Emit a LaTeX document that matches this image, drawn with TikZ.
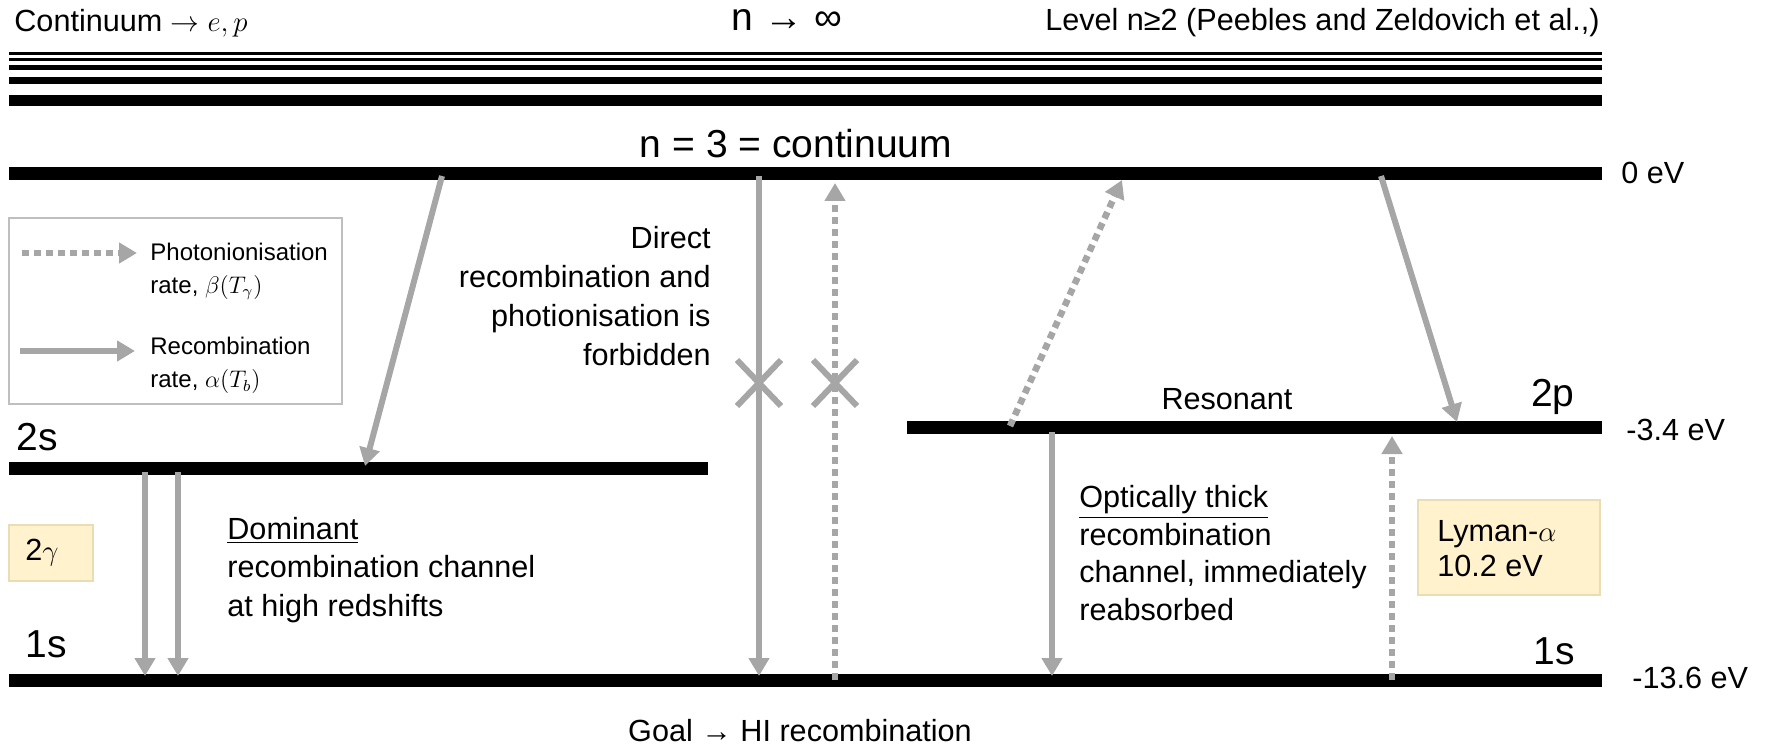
\documentclass[tikz,border=0pt]{standalone}
\usepackage{fontspec}
\setmainfont{Liberation Sans}
\usetikzlibrary{arrows.meta}
\definecolor{arrgrey}{HTML}{A6A6A6}
\definecolor{boxfill}{HTML}{FFF2CC}
\definecolor{boxline}{HTML}{E9DDB5}
\definecolor{legline}{HTML}{BFBFBF}
\begin{document}
\begin{tikzpicture}[x=0.5pt,y=-0.5pt,
  lvl/.style={line width=6.5pt},
  rec/.style={draw=arrgrey,line width=3pt,-{Triangle[length=9pt,width=10pt]}},
  pho/.style={draw=arrgrey,line width=3.3pt,dash pattern=on 3.5pt off 2.5pt,-{Triangle[length=9pt,width=10pt]}},
  crossmark/.style={draw=arrgrey,line width=3pt},
  body/.style={font=\fontsize{15.3}{18.7}\selectfont,inner sep=0pt},
  big/.style={font=\fontsize{19.5}{22}\selectfont,inner sep=0pt},
  legt/.style={font=\fontsize{12}{16.5}\selectfont,inner sep=0pt,align=left,anchor=west},
  ybox/.style={fill=boxfill,draw=boxline,line width=0.8pt},
]
\useasboundingbox (0,0) rectangle (1777,748);

% continuum lines
\draw[line width=1.5pt] (9,54) -- (1602,54);
\draw[line width=1.5pt] (9,60) -- (1602,60);
\draw[line width=2.5pt] (9,67.5) -- (1602,67.5);
\draw[line width=3.5pt] (9,80.5) -- (1602,80.5);
\draw[line width=5.5pt] (9,101) -- (1602,101);

% levels
\draw[lvl] (9,174) coordinate (n3L) -- (1602,174) coordinate (n3R);
\draw[lvl] (9,468) coordinate (s2L) -- (708,468) coordinate (s2R);
\draw[lvl] (907,428) coordinate (p2L) -- (1602,428) coordinate (p2R);
\draw[lvl] (9,680) coordinate (s1L) -- (1602,680) coordinate (s1R);

% arrow end points
\coordinate (a1s) at (442,176); \coordinate (a1e) at (365,466);
\coordinate (a2s) at (145,472); \coordinate (a2e) at (145,676);
\coordinate (a3s) at (178,472); \coordinate (a3e) at (178,676);
\coordinate (a4s) at (759,176); \coordinate (a4e) at (759,676);
\coordinate (a5s) at (835,680); \coordinate (a5e) at (835,183);
\coordinate (a6s) at (1010,426); \coordinate (a6e) at (1122,180);
\coordinate (a7s) at (1381,176); \coordinate (a7e) at (1457,422);
\coordinate (a8s) at (1052,432); \coordinate (a8e) at (1052,676);
\coordinate (a9s) at (1392,680); \coordinate (a9e) at (1392,436);

\draw[rec] (a1s) -- (a1e);
\draw[rec] (a2s) -- (a2e);
\draw[rec] (a3s) -- (a3e);
\draw[rec] (a4s) -- (a4e);
\draw[pho] (a5s) -- (a5e);
\draw[pho] (a6s) -- (a6e);
\draw[rec] (a7s) -- (a7e);
\draw[rec] (a8s) -- (a8e);
\draw[pho] (a9s) -- (a9e);

% forbidden crosses
\draw[crossmark] (737,360) -- (781,406) (737,406) -- (781,360);
\draw[crossmark] (813,360) -- (857,406) (813,406) -- (857,360);

% legend
\draw[legline,line width=1pt] (9,218) rectangle (342,404);
\coordinate (lg1s) at (22,253); \coordinate (lg1e) at (137,253);
\coordinate (lg2s) at (20,351); \coordinate (lg2e) at (135,351);
\draw[pho] (lg1s) -- (lg1e);
\draw[rec] (lg2s) -- (lg2e);
\node[legt] (lgt1) at (150,271.5) {Photonionisation\\rate, $\beta(T_\gamma)$};
\node[legt] (lgt2) at (150,365.5) {Recombination\\rate, $\alpha(T_b)$};

% top labels
\node[body,anchor=west] (cont) at (14,23) {Continuum $\rightarrow e,p$};
\node[big] (ninf) at (787,20) {n → ∞};
\node[body,anchor=east] (lev) at (1600,23) {Level n≥2 (Peebles and Zeldovich et al.,)};
\node[big] (n3t) at (796,144) {n = 3 = continuum};

% energies
\node[body,anchor=west] (e0) at (1621,173) {0 eV};
\node[body,anchor=west] (e34) at (1626,430) {-3.4 eV};
\node[body,anchor=west] (e136) at (1632,678) {-13.6 eV};

% level names
\node[big,anchor=west] (l2s) at (16,437) {2s};
\node[big,anchor=west] (l1s) at (25,644) {1s};
\node[big,anchor=east] (l2p) at (1575,397) {2p};
\node[big,anchor=east] (l1sr) at (1575,651) {1s};
\node[body] (reson) at (1227,399) {Resonant};

% descriptions
\node[body,anchor=east,align=right,font=\fontsize{15.3}{19.5}\selectfont] (direct) at (711,296.5)
  {Direct\\recombination and\\photionisation is\\forbidden};
\node[body,anchor=west,align=left,font=\fontsize{15.3}{19.2}\selectfont] (domin) at (227,570)
  {\underline{Dominant}\\recombination channel\\at high redshifts};
\node[body,anchor=west,align=left] (optic) at (1079,553)
  {\underline{Optically thick}\\recombination\\channel, immediately\\reabsorbed};

% boxes
\draw[ybox] (9,525) rectangle (93,581);
\node[body,anchor=west] (twog) at (25,553) {2$\gamma$};
\draw[ybox] (1418,500) rectangle (1600,595);
\node[body,anchor=west,align=left,font=\fontsize{15.3}{17.5}\selectfont] (lya) at (1437,549)
  {Lyman-$\alpha$\\10.2 eV};

\node[body] (goal) at (800,731) {Goal → HI recombination};
\end{tikzpicture}
\end{document}
